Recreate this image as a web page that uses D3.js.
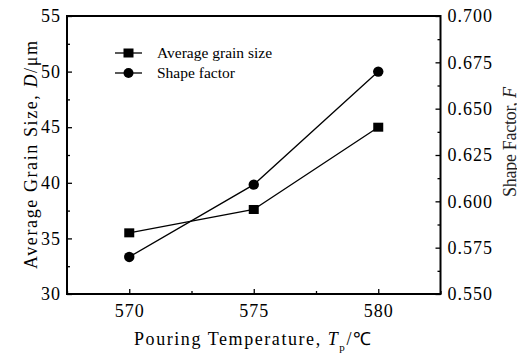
<!DOCTYPE html>
<html><head><meta charset="utf-8">
<script src="https://cdn.jsdelivr.net/npm/d3@7"></script>
<style>
body{margin:0;background:#fff;}
svg{display:block;}
svg text{font-family:"Liberation Serif","Times New Roman",serif !important;}
</style></head>
<body>
<svg id="c" width="517" height="358"></svg>
<script>
const temperatures = [570, 575, 580];
const grainSize = [35.5, 37.6, 45.0];
const shapeFactor = [0.570, 0.609, 0.670];
const xTicks = [570, 575, 580];
const xMinor = [567.5, 572.5, 577.5, 582.5];
const leftTicks = [30, 35, 40, 45, 50, 55];
const leftMinor = [32.5, 37.5, 42.5, 47.5, 52.5];
const rightTicks = [0.550, 0.575, 0.600, 0.625, 0.650, 0.675, 0.700];
const rightMinor = [0.5625, 0.5875, 0.6125, 0.6375, 0.6625, 0.6875];
const seriesNames = ["Average grain size", "Shape factor"];

const L = 67, R = 440.5, T = 16, B = 294;
const svg = d3.select("#c");
const x = d3.scaleLinear().domain([567.5, 582.5]).range([L, R]);
const yL = d3.scaleLinear().domain([30, 55]).range([B, T]);
const yR = d3.scaleLinear().domain([0.55, 0.70]).range([B, T]);

const fs = 18;
const serif = "'Liberation Serif','Times New Roman',serif";
function styleAxis(g){
  g.attr("font-family", serif);
  g.select(".domain").remove();
  g.selectAll(".tick line").attr("stroke", "#000").attr("stroke-width", 1.3);
  g.selectAll(".tick text").attr("font-size", fs).attr("fill", "#000")
    .style("font-family", serif).attr("letter-spacing", "1px");
}
// minor ticks
svg.append("g").attr("transform", `translate(0,${B})`)
  .call(d3.axisBottom(x).tickValues(xMinor).tickSize(-3).tickFormat("")).call(styleAxis);
svg.append("g").attr("transform", `translate(${L},0)`)
  .call(d3.axisLeft(yL).tickValues(leftMinor).tickSize(-3).tickFormat("")).call(styleAxis);
svg.append("g").attr("transform", `translate(${R},0)`)
  .call(d3.axisRight(yR).tickValues(rightMinor).tickSize(-3).tickFormat("")).call(styleAxis);
// major
svg.append("g").attr("transform", `translate(0,${B})`)
  .call(d3.axisBottom(x).tickValues(xTicks).tickSize(-5).tickPadding(10).tickFormat(d3.format("d"))).call(styleAxis);
svg.append("g").attr("transform", `translate(${L},0)`)
  .call(d3.axisLeft(yL).tickValues(leftTicks).tickSize(-5).tickPadding(6).tickFormat(d3.format("d"))).call(styleAxis);
svg.append("g").attr("transform", `translate(${R},0)`)
  .call(d3.axisRight(yR).tickValues(rightTicks).tickSize(-5).tickPadding(7).tickFormat(d3.format(".3f"))).call(styleAxis);

// frame
svg.append("rect").attr("x", L).attr("y", T).attr("width", R - L).attr("height", B - T)
  .attr("fill", "none").attr("stroke", "#000").attr("stroke-width", 2);

// lines
const lineG = d3.line().x((d, i) => x(temperatures[i])).y(d => yL(d));
const lineS = d3.line().x((d, i) => x(temperatures[i])).y(d => yR(d));
svg.append("path").attr("d", lineG(grainSize)).attr("fill", "none").attr("stroke", "#000").attr("stroke-width", 1.3);
svg.append("path").attr("d", lineS(shapeFactor)).attr("fill", "none").attr("stroke", "#000").attr("stroke-width", 1.3);
const sq = 10;
svg.selectAll(".sq").data(grainSize).enter().append("rect")
  .attr("x", (d, i) => x(temperatures[i]) - sq / 2).attr("y", d => yL(d) - sq / 2 + 0.5)
  .attr("width", sq).attr("height", sq - 1).attr("fill", "#000");
svg.selectAll(".ci").data(shapeFactor).enter().append("circle")
  .attr("cx", (d, i) => x(temperatures[i])).attr("cy", d => yR(d)).attr("r", 5.2).attr("fill", "#000");

// legend
const lg = svg.append("g");
const rows = [53, 73];
rows.forEach((ry, i) => {
  lg.append("line").attr("x1", 115).attr("x2", 142).attr("y1", ry).attr("y2", ry).attr("stroke", "#000").attr("stroke-width", 1.3);
  if (i === 0) lg.append("rect").attr("x", 128.5 - 5).attr("y", ry - 4.5).attr("width", 10).attr("height", 9).attr("fill", "#000");
  else lg.append("circle").attr("cx", 128.5).attr("cy", ry).attr("r", 5).attr("fill", "#000");
  lg.append("text").attr("x", 157).attr("y", ry + 5).attr("font-size", 15.5).text(seriesNames[i]);
});

// axis titles
const lt = svg.append("text").attr("transform", `translate(37,155) rotate(-90)`)
  .attr("text-anchor", "middle").attr("font-size", fs).attr("textLength", 228).attr("lengthAdjust", "spacing");
lt.append("tspan").text("Average Grain Size, ");
lt.append("tspan").attr("font-style", "italic").text("D");
lt.append("tspan").text("/μm");

const rt = svg.append("text").attr("transform", `translate(516,142) rotate(-90)`)
  .attr("text-anchor", "middle").attr("font-size", fs).attr("fill", "#222").attr("textLength", 110).attr("lengthAdjust", "spacing");
rt.append("tspan").text("Shape Factor, ");
rt.append("tspan").attr("font-style", "italic").text("F");

const bt = svg.append("text").attr("x", 134).attr("y", 345).attr("font-size", fs)
  .attr("textLength", 237).attr("lengthAdjust", "spacing");
bt.append("tspan").text("Pouring Temperature, ");
bt.append("tspan").attr("font-style", "italic").text("T");
bt.append("tspan").attr("font-size", 11).attr("dy", 6).text("p");
bt.append("tspan").attr("dy", -6).text("/℃");
</script>
</body></html>
